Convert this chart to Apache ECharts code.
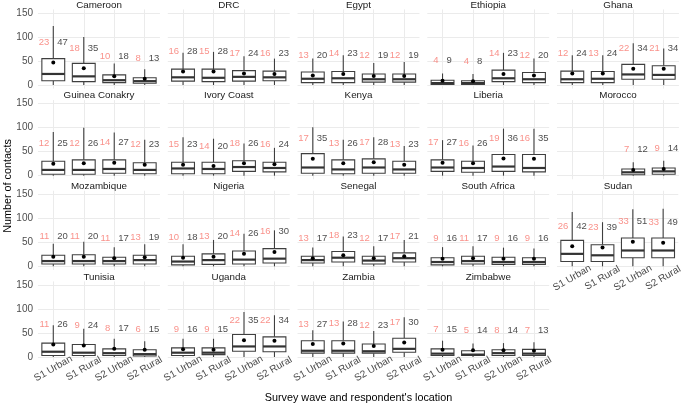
<!DOCTYPE html>
<html><head><meta charset="utf-8">
<script src="https://cdn.jsdelivr.net/npm/echarts@6/dist/echarts.min.js"></script>
<style>html,body{margin:0;padding:0;background:#fff}#c{width:685px;height:405px}</style>
</head><body><div id="c"></div>
<script>
const categories = ['S1 Urban', 'S1 Rural', 'S2 Urban', 'S2 Rural'];
const countries = ['Cameroon','DRC','Egypt','Ethiopia','Ghana','Guinea Conakry','Ivory Coast','Kenya','Liberia','Morocco','Mozambique','Nigeria','Senegal','South Africa','Sudan','Tunisia','Uganda','Zambia','Zimbabwe'];
const yTicks = [0, 50, 100, 150];
const xTitle = "Survey wave and respondent's location";
const yTitle = 'Number of contacts';

// per country, order S1 Urban, S1 Rural, S2 Urban, S2 Rural (null = no data)
const medians = [
  [23,18,10,8],[16,15,17,16],[13,14,12,12],[4,4,14,12],[12,13,22,21],
  [12,12,14,12],[15,14,18,16],[17,13,17,13],[17,16,19,16],[null,null,7,9],
  [11,11,11,13],[10,13,14,16],[13,18,12,17],[9,11,9,9],[26,23,33,33],
  [11,9,8,6],[9,9,22,22],[13,13,12,17],[7,5,8,7]
];
const means = [
  [47,35,18,13],[28,28,24,23],[20,23,19,19],[9,8,23,20],[24,24,34,34],
  [25,26,27,23],[23,20,26,24],[35,26,28,23],[27,26,36,35],[null,null,12,14],
  [20,20,17,19],[18,20,26,30],[17,23,17,21],[16,17,16,16],[42,39,51,49],
  [26,24,17,15],[16,15,35,34],[27,28,23,30],[15,14,14,13]
];
const q1s = [
  [9,7,5,3.5],[8,7,8,9],[5,5,6,6],[1,1,7,5],[5,5,12,12],
  [3,3,5,4],[4,4,9,8],[5,4,5,5],[9,7,9,8],[null,null,2,3],
  [5,5,5,5],[3,4,5,7],[7,9,5,9],[3,5,4,4],[10,10,18,18],
  [3,3,3,2],[3,5,12,11],[8,8,8,10],[3,3,3,3]
];
const q3s = [
  [55,45,21,15],[33,33,30,29],[27,28,23,23],[10,9,31,26],[29,28,43,40],
  [30,33,33,27],[28,28,31,28],[46,33,35,30],[33,30,44,44],[null,null,14,16],
  [23,24,19,23],[21,26,32,37],[21,31,21,28],[18,21,19,18],[54,45,59,59],
  [29,26,17,15],[19,19,47,42],[34,34,27,39],[17,13,15,16]
];
const whiskerHigh = [
  [123,100,45,33],[67,69,60,55],[55,62,46,48],[24,23,67,55],[62,62,87,76],
  [91,100,90,75],[80,77,67,58],[101,75,80,62],[74,63,98,98],[null,null,28,31],
  [47,51,40,46],[46,55,68,75],[39,62,42,55],[40,42,39,37],[113,92,119,120],
  [66,59,38,33],[38,38,94,87],[56,74,54,83],[34,28,29,31]
];
const whiskerLow = [
  [0,0,0,0],[0,0,0,0],[0,0,0,0],[0,0,0,0],[0,0,0,0],
  [0,0,0,0],[0,0,0,0],[0,0,0,0],[0,0,0,0],[null,null,0,0],
  [0,0,0,0],[0,0,0,0],[0,0,0,0],[0,0,0,0],[0,0,0,0],
  [0,0,0,0],[0,0,0,0],[0,0,0,0],[0,0,0,0]
];

// ---- layout / style ----
const FONT = 'Liberation Sans, Arial, sans-serif';
const panelLeft0 = 35, panelPitchX = 129.75, panelW = 128;
const zero0 = 85, panelPitchY = 90.67, pxPerUnit = 0.48;
const yMin = -7.5, yMax = 157.5;
const band = panelW / 4.2;
const labelLift = 42;
const boxColor = '#3f3f3f';
const lw = 1.1;

const grids = [], xAxes = [], yAxes = [], series = [], graphics = [];

countries.forEach((name, i) => {
  const row = Math.floor(i / 5), col = i % 5;
  const pl = panelLeft0 + col * panelPitchX;
  const zy = zero0 + row * panelPitchY;
  const top = zy - yMax * pxPerUnit;
  const height = (yMax - yMin) * pxPerUnit;
  const bottomPanel = row === 3 || i === 14;
  grids.push({ left: pl + 0.1 * band, top: top, width: 4 * band, height: height });
  xAxes.push({
    gridIndex: i, type: 'category', data: categories, boundaryGap: true,
    axisLine: { show: false }, axisTick: { show: false }, splitLine: { show: false },
    axisLabel: bottomPanel ? { show: true, interval: 0, rotate: 30, align: 'center', verticalAlign: 'middle',
      margin: 8, color: '#4d4d4d', fontSize: 10, fontFamily: FONT } : { show: false }
  });
  yAxes.push({
    gridIndex: i, type: 'value', min: yMin, max: yMax, splitNumber: 3, minInterval: 50, maxInterval: 50,
    axisLine: { show: false }, axisTick: { show: false }, splitLine: { show: false },
    axisLabel: col === 0 ? { show: true, margin: 5, color: '#4d4d4d', fontSize: 10, fontFamily: FONT,
      formatter: v => (yTicks.indexOf(v) >= 0 ? String(v) : '') } : { show: false }
  });
  // grid lines (drawn beneath the boxes)
  series.push({
    type: 'line', xAxisIndex: i, yAxisIndex: i, data: [], z: 0, silent: true,
    markLine: {
      z: 0, silent: true, symbol: ['none', 'none'], label: { show: false }, animation: false,
      lineStyle: { color: '#ebebeb', width: 1, type: 'solid' },
      data: categories.map(c => ({ xAxis: c })).concat(yTicks.map(t => ({ yAxis: t })))
    }
  });
  const boxData = [], redData = [], blackData = [];
  categories.forEach((c, k) => {
    if (medians[i][k] == null) return;
    boxData.push([k, whiskerLow[i][k], q1s[i][k], medians[i][k], q3s[i][k], whiskerHigh[i][k], means[i][k]]);
    redData.push([k, means[i][k] + labelLift, medians[i][k]]);
    blackData.push([k, means[i][k] + labelLift, means[i][k]]);
  });
  series.push({
    type: 'custom', xAxisIndex: i, yAxisIndex: i, z: 2, data: boxData, clip: false,
    encode: { x: 0, y: [1, 2, 3, 4, 5, 6] },
    renderItem: (params, api) => {
      const x = api.value(0);
      const lo = api.coord([x, api.value(1)]);
      const a = api.coord([x, api.value(2)]);
      const m = api.coord([x, api.value(3)]);
      const b = api.coord([x, api.value(4)]);
      const hi = api.coord([x, api.value(5)]);
      const mn = api.coord([x, api.value(6)]);
      const bw = api.size([1, 0])[0] * 0.75;
      const cx = a[0];
      return { type: 'group', children: [
        { type: 'rect', shape: { x: cx - lw / 2, y: hi[1], width: lw, height: b[1] - hi[1] },
          style: { fill: boxColor } },
        { type: 'rect', shape: { x: cx - lw / 2, y: a[1], width: lw, height: lo[1] - a[1] },
          style: { fill: boxColor } },
        { type: 'rect', shape: { x: cx - bw / 2, y: b[1], width: bw, height: a[1] - b[1] },
          style: { stroke: boxColor, lineWidth: lw, fill: '#ffffff' } },
        { type: 'rect', shape: { x: cx - bw / 2, y: m[1] - 1.1, width: bw, height: 2.2 },
          style: { fill: '#333333' } },
        { type: 'circle', shape: { cx: cx, cy: mn[1], r: 2 }, style: { fill: '#000000' } }
      ] };
    }
  });
  series.push({ type: 'scatter', xAxisIndex: i, yAxisIndex: i, z: 4, data: redData,
    symbolSize: 0, label: { show: true, position: 'left', distance: 4, formatter: p => p.value[2],
      color: '#F8766D', fontSize: 9.5, fontFamily: FONT } });
  series.push({ type: 'scatter', xAxisIndex: i, yAxisIndex: i, z: 4, data: blackData,
    symbolSize: 0, label: { show: true, position: 'right', distance: 4, formatter: p => p.value[2],
      color: '#1a1a1a', fontSize: 9.5, fontFamily: FONT } });
  graphics.push({ type: 'text', x: pl + panelW / 2, y: zy - 80,
    style: { text: name, textAlign: 'center', textVerticalAlign: 'middle', fill: '#1a1a1a', fontSize: 9.8, fontFamily: FONT } });
});

graphics.push({ type: 'text', x: panelLeft0 + (4 * panelPitchX + panelW) / 2, y: 398,
  style: { text: xTitle, textAlign: 'center', textVerticalAlign: 'middle', fill: '#000', fontSize: 10.8, fontFamily: FONT } });
graphics.push({ type: 'text', x: 8, y: 186, rotation: Math.PI / 2,
  style: { text: yTitle, textAlign: 'center', textVerticalAlign: 'middle', fill: '#000', fontSize: 10.8, fontFamily: FONT } });

const chart = echarts.init(document.getElementById('c'), null, { renderer: 'canvas' });
chart.setOption({
  animation: false, backgroundColor: '#ffffff',
  grid: grids, xAxis: xAxes, yAxis: yAxes, series: series, graphic: graphics
});
</script></body></html>
